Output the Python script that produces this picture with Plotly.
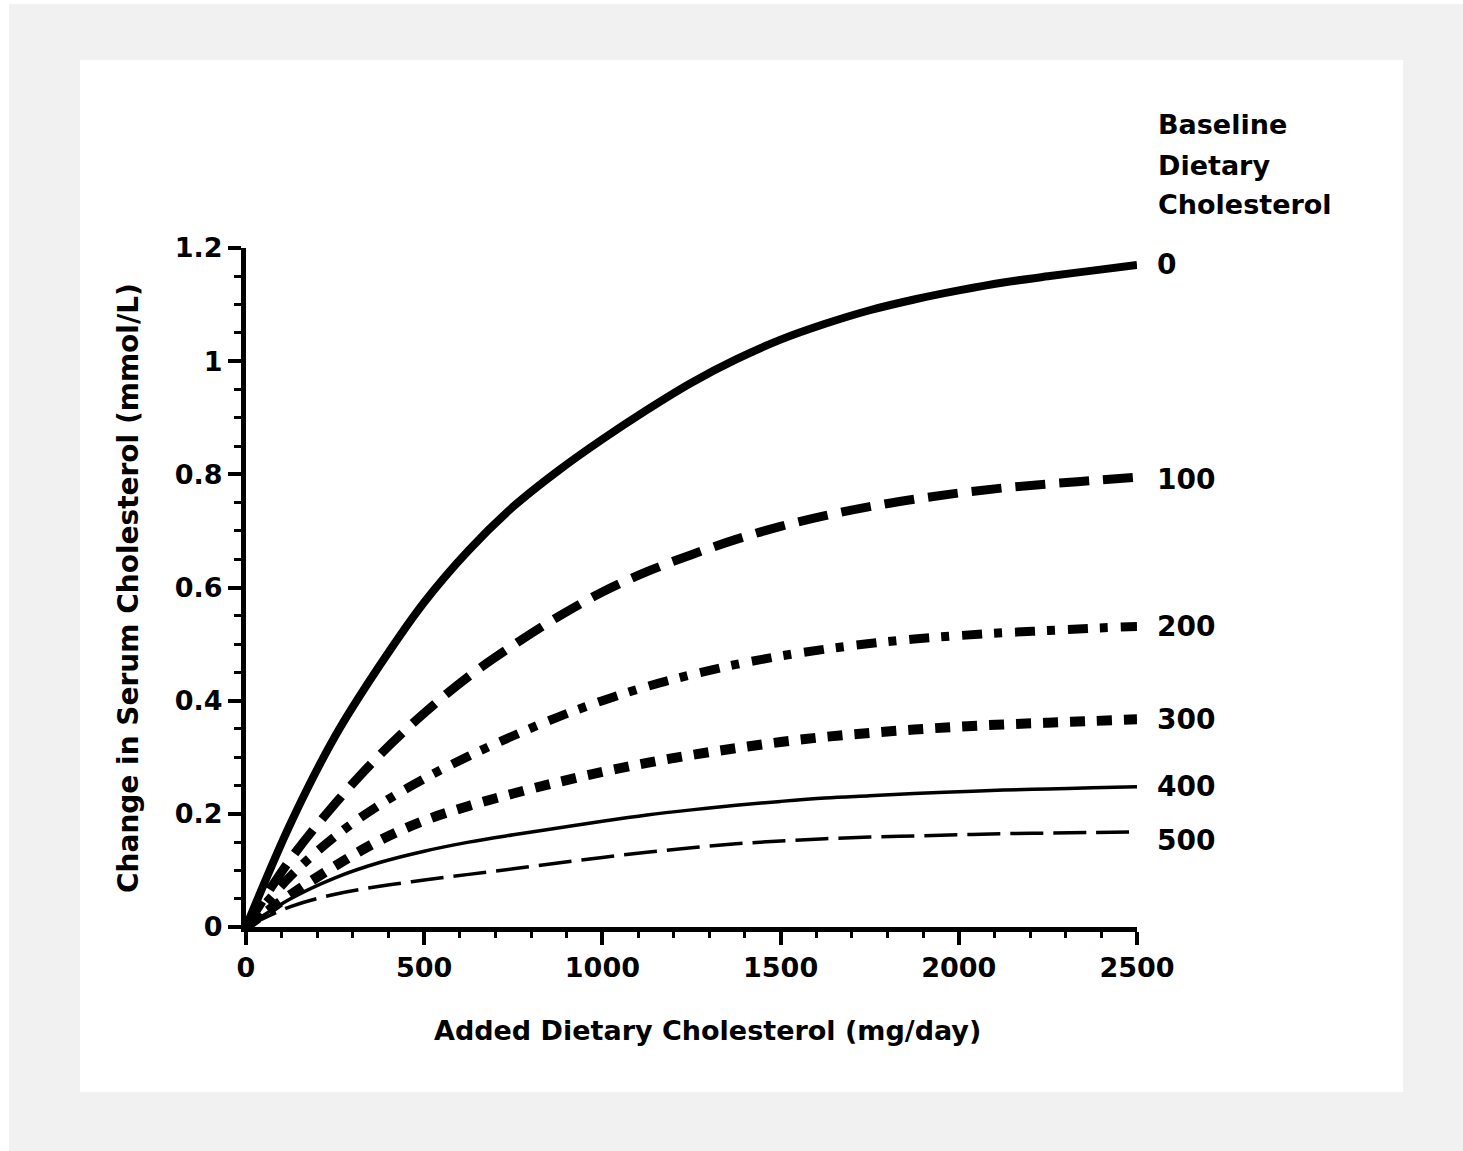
import plotly.graph_objects as go

# Added dietary cholesterol (mg/day)
added_chol = [0, 125, 250, 375, 500, 625, 750, 875, 1000, 1125, 1250,
              1375, 1500, 1625, 1750, 1875, 2000, 2125, 2250, 2375, 2500]

# Change in serum cholesterol (mmol/L) for each baseline dietary cholesterol level
base_0 = [0, 0.183, 0.337, 0.462, 0.574, 0.666, 0.743, 0.806, 0.862, 0.914, 0.962,
          1.003, 1.038, 1.066, 1.090, 1.109, 1.125, 1.139, 1.150, 1.160, 1.170]
base_100 = [0, 0.120, 0.218, 0.304, 0.378, 0.443, 0.498, 0.548, 0.592, 0.628, 0.658,
            0.685, 0.708, 0.727, 0.743, 0.756, 0.767, 0.776, 0.783, 0.789, 0.795]
base_200 = [0, 0.090, 0.160, 0.216, 0.262, 0.302, 0.338, 0.371, 0.400, 0.425, 0.446,
            0.464, 0.479, 0.491, 0.501, 0.509, 0.515, 0.520, 0.524, 0.528, 0.531]
base_300 = [0, 0.057, 0.108, 0.153, 0.188, 0.214, 0.236, 0.256, 0.274, 0.290, 0.304,
            0.316, 0.327, 0.336, 0.343, 0.349, 0.354, 0.358, 0.361, 0.364, 0.367]
base_400 = [0, 0.050, 0.087, 0.114, 0.134, 0.150, 0.163, 0.175, 0.187, 0.198, 0.207,
            0.215, 0.222, 0.228, 0.232, 0.236, 0.239, 0.242, 0.244, 0.246, 0.248]
base_500 = [0, 0.036, 0.058, 0.072, 0.083, 0.093, 0.103, 0.113, 0.123, 0.132, 0.140,
            0.147, 0.152, 0.156, 0.159, 0.161, 0.163, 0.165, 0.166, 0.167, 0.168]

baseline_labels = ["0", "100", "200", "300", "400", "500"]
series = [base_0, base_100, base_200, base_300, base_400, base_500]
legend_title = ["Baseline", "Dietary", "Cholesterol"]

# line style per baseline curve: (width, dash)
styles = [
    (8, "solid"),
    (9, "30px,14px"),
    (9, "20px,12px,8px,13px"),
    (10, "15px,12px"),
    (3.5, "solid"),
    (3.5, "33px,10px"),
]
# vertical nudge (px) for the curve-end labels
label_shift = [0, -2, 0, 0, 0, -9]

W, H = 1463, 1151
L, R, T, B = 246, 1137, 248, 927   # plot area in pixels
FONT = "DejaVu Sans"
BG = "#f1f1f1"


def px_x(p):
    return (p - L) / (R - L)


def px_y(p):
    return (B - p) / (B - T)


def bold(size):
    return dict(family=FONT, size=size, color="black", weight="bold")


fig = go.Figure()
for vals, (w, dash), name in zip(series, styles, baseline_labels):
    fig.add_trace(go.Scatter(
        x=added_chol, y=vals, mode="lines", name=name,
        line=dict(color="black", width=w, dash=dash, shape="spline", smoothing=1.0),
        showlegend=False, hoverinfo="x+y+name",
    ))

annotations = []
for vals, name, dy in zip(series, baseline_labels, label_shift):
    annotations.append(dict(
        x=added_chol[-1], y=vals[-1], xref="x", yref="y",
        text=name, showarrow=False, xanchor="left", yanchor="middle",
        xshift=18, yshift=dy, font=bold(28),
    ))

for line, py in zip(legend_title, [125, 165, 204]):
    annotations.append(dict(
        x=px_x(1156), y=px_y(py), xref="paper", yref="paper",
        text=line, showarrow=False, xanchor="left", yanchor="middle",
        font=bold(27),
    ))

annotations.append(dict(
    x=px_x(707), y=px_y(1030), xref="paper", yref="paper",
    text="Added Dietary Cholesterol (mg/day)", showarrow=False,
    xanchor="center", yanchor="middle", font=bold(27),
))
annotations.append(dict(
    x=px_x(128), y=px_y(588), xref="paper", yref="paper",
    text="Change in Serum Cholesterol (mmol/L)", showarrow=False,
    xanchor="center", yanchor="middle", textangle=-90, font=bold(28),
))

shapes = [
    # grey frame with the white card on top
    dict(type="rect", xref="paper", yref="paper", layer="below",
         x0=px_x(9), x1=px_x(W), y0=px_y(4), y1=px_y(H),
         fillcolor=BG, line=dict(width=0)),
    dict(type="rect", xref="paper", yref="paper", layer="below",
         x0=px_x(80), x1=px_x(1403), y0=px_y(60), y1=px_y(1092),
         fillcolor="white", line=dict(width=0)),
]

axis_common = dict(
    showline=True, linecolor="black", linewidth=5, mirror=False,
    ticks="outside", tickcolor="black", tickwidth=4, ticklen=13,
    showgrid=False, zeroline=False, tickfont=bold(27),
)

fig.update_layout(
    width=W, height=H,
    margin=dict(l=L, r=W - R, t=T, b=H - B, pad=0),
    paper_bgcolor="white", plot_bgcolor="rgba(0,0,0,0)",
    xaxis=dict(range=[0, 2500], tickmode="linear", tick0=0, dtick=500,
               minor=dict(dtick=100, ticks="outside", ticklen=6, tickwidth=3, tickcolor="black"),
               ticklabelstandoff=0, **axis_common),
    yaxis=dict(range=[0, 1.2], tickmode="linear", tick0=0, dtick=0.2,
               minor=dict(dtick=0.05, ticks="outside", ticklen=7, tickwidth=3, tickcolor="black"),
               ticklabelstandoff=0, **axis_common),
    annotations=annotations,
    shapes=shapes,
)

fig.write_html("out.html")
